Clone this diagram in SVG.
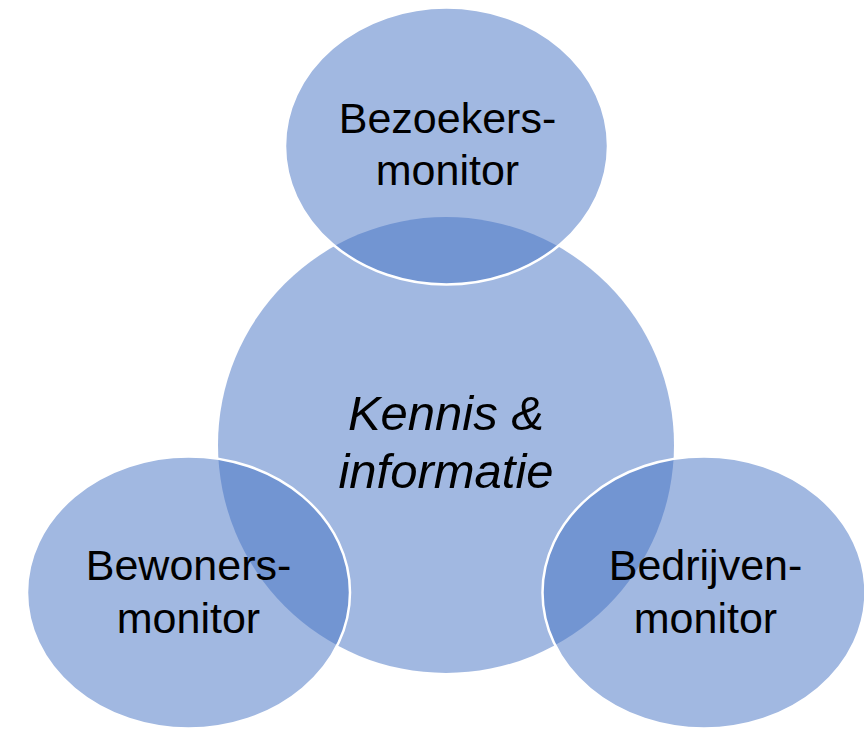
<svg xmlns="http://www.w3.org/2000/svg" width="864" height="729" viewBox="0 0 864 729">
<style>
.shape{fill:#4472C4;fill-opacity:0.5;}
.outer{stroke:#FFFFFF;stroke-width:2.5;}
.lbl{font-family:"Liberation Sans","Noto Sans",sans-serif;font-size:43px;fill:#000000;text-anchor:middle;}
.center{font-style:italic;font-size:49px;}
</style>
<rect width="864" height="729" fill="#FFFFFF"/>
<g id="node-kennis">
<circle class="shape" cx="446" cy="445" r="228"/>
</g>
<g id="node-bezoekers">
<ellipse class="shape outer" cx="446.5" cy="146" rx="161.5" ry="138.5"/>
</g>
<g id="node-bewoners">
<ellipse class="shape outer" cx="188.5" cy="592.5" rx="161.5" ry="136"/>
</g>
<g id="node-bedrijven">
<ellipse class="shape outer" cx="704" cy="592.5" rx="161.5" ry="136"/>
</g>
<g id="connectors"></g>
<g id="labels">
<text class="lbl center" x="446" y="430">Kennis &amp;</text>
<text class="lbl center" x="446" y="488">informatie</text>
<text class="lbl" x="447.5" y="133">Bezoekers-</text>
<text class="lbl" x="447.5" y="185">monitor</text>
<text class="lbl" x="188.5" y="580">Bewoners-</text>
<text class="lbl" x="188.5" y="633">monitor</text>
<text class="lbl" x="705.5" y="580">Bedrijven-</text>
<text class="lbl" x="705.5" y="633">monitor</text>
</g>
</svg>
